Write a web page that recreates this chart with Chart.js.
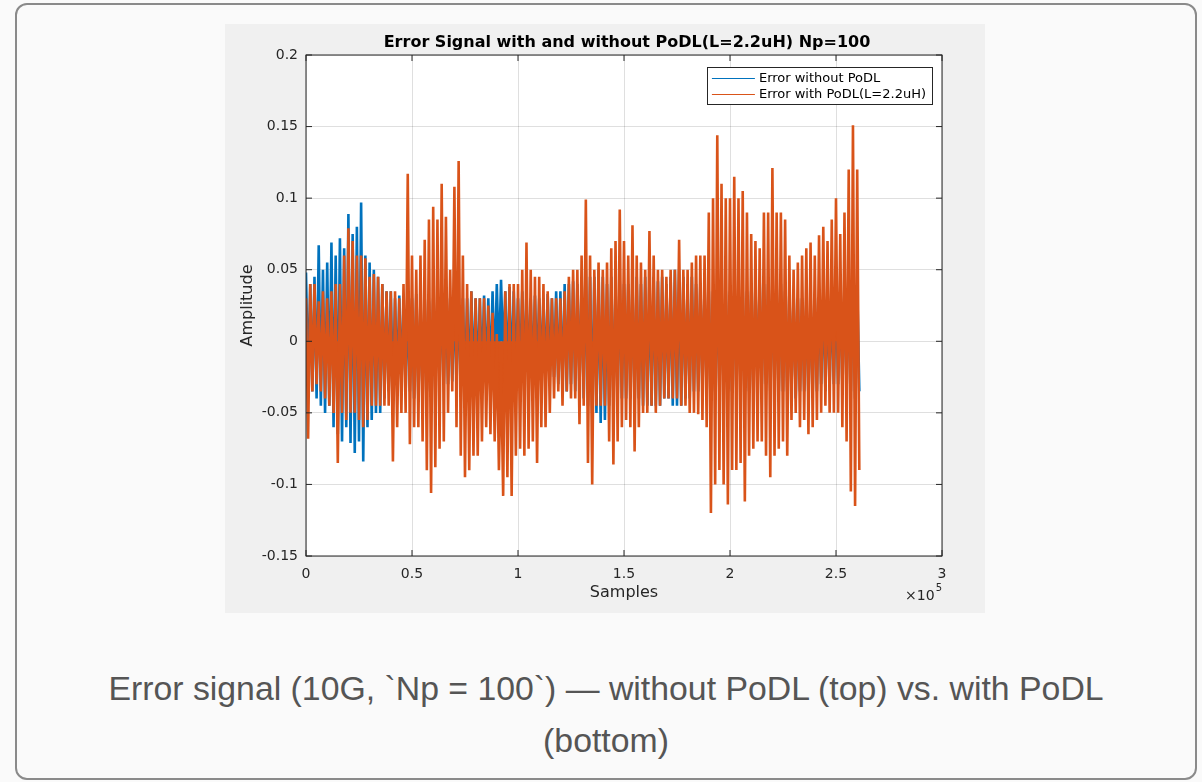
<!DOCTYPE html>
<html>
<head>
<meta charset="utf-8">
<title>Error signal with and without PoDL</title>
<script src="https://cdn.jsdelivr.net/npm/chart.js@4.4.1/dist/chart.umd.min.js"></script>
<style>
  html, body { margin: 0; padding: 0; background: #fafafa; }
  body { width: 1202px; height: 782px; position: relative; overflow: hidden; font-family: "Liberation Sans", Arial, sans-serif; }
  .card { position: absolute; left: 15px; top: 3px; width: 1182px; height: 777px; box-sizing: border-box; border: 2px solid #8a8a8a; border-radius: 12px; background: #fafafa; }
  .figure { position: absolute; left: 225px; top: 24px; width: 760px; height: 589px; background: #f0f0f0; }
  .caption { position: absolute; left: 76px; top: 662px; width: 1060px; text-align: center; font-size: 33.8px; line-height: 52px; color: #555; }
</style>
</head>
<body>
<div class="card"></div>
<div class="figure"><canvas id="errorChart" width="760" height="589"></canvas></div>
<div class="caption">Error signal (10G, `Np = 100`) — without PoDL (top) vs. with PoDL (bottom)</div>

<script>
// Envelope: one high and one low value per 2000-sample bin
const sampleStep = 2000;

const blueHigh = [
  .048, .04, .045, .067, .05, .055, .069, .06, .072, .065,
  .089, .075, .08, .097, .06, .055, .05, .045, .04, .035,
  .035, .03, .032, .03, .028, .03, .033, .03, .03, .028,
  .03, .032, .03, .028, .03, .03, .032, .03, .03, .035,
  .03, .03, .032, .03, .035, .04, .043, .035, .038, .035,
  .03, .035, .035, .03, .032, .03, .03, .033, .03, .035,
  .035, .04, .04, .042, .04, .045, .05, .045, .045, .05,
  .045, .04, .045, .04, .042, .04, .04, .045, .045, .04,
  .045, .045, .045, .042, .045, .04, .045, .05, .05, .045,
  .04, .045, .04, .04, .04, .035, .035, .035, .035, .035,
  .035, .035, .035, .035, .035, .035, .04, .042, .04, .04,
  .04, .04, .04, .035, .035, .035, .03, .03, .03, .03,
  .03, .03, .03, .03, .03, .035, .035, .04, .04, .04, .04
];
const blueLow = [
  -.03, -.035, -.04, -.045, -.05, -.045, -.06, -.065, -.07, -.06,
  -.071, -.078, -.07, -.084, -.06, -.055, -.05, -.05, -.04, -.035,
  -.035, -.03, -.03, -.035, -.035, -.04, -.04, -.04, -.035, -.035,
  -.035, -.03, -.03, -.03, -.028, -.03, -.03, -.03, -.03, -.03,
  -.03, -.025, -.025, -.025, -.02, -.015, -.01, -.025, -.025, -.02,
  -.02, -.02, -.02, -.022, -.02, -.02, -.025, -.025, -.025, -.03,
  -.035, -.035, -.03, -.035, -.035, -.04, -.045, -.05, -.05, -.057,
  -.055, -.045, -.045, -.04, -.04, -.04, -.04, -.045, -.04, -.045,
  -.045, -.045, -.045, -.045, -.04, -.04, -.045, -.045, -.045, -.04,
  -.04, -.035, -.035, -.035, -.035, -.035, -.035, -.035, -.035, -.035,
  -.035, -.035, -.035, -.035, -.035, -.035, -.03, -.03, -.03, -.035,
  -.035, -.035, -.035, -.035, -.035, -.04, -.035, -.035, -.04, -.035,
  -.035, -.03, -.035, -.03, -.03, -.03, -.03, -.035, -.035, -.04, -.035
];
const redHigh = [
  .03, .04, .04, .028, .035, .03, .035, .04, .04, .06,
  .079, .07, .06, .06, .058, .045, .047, .045, .04, .035,
  .035, .035, .03, .04, .117, .06, .05, .06, .071, .085,
  .094, .085, .11, .087, .05, .108, .126, .06, .04, .035,
  .03, .03, .03, .025, .02, .005, -.015, .035, .04, .04,
  .04, .05, .069, .05, .045, .045, .04, .035, .03, .03,
  .03, .035, .045, .05, .05, .06, .099, .06, .05, .055,
  .05, .055, .065, .07, .092, .07, .06, .081, .06, .055,
  .05, .077, .06, .05, .05, .045, .05, .05, .071, .05,
  .05, .055, .06, .06, .06, .09, .1, .144, .11, .1,
  .1, .115, .1, .105, .09, .075, .07, .065, .09, .09,
  .121, .09, .09, .085, .06, .05, .055, .06, .065, .069,
  .06, .074, .08, .07, .085, .1, .075, .09, .12, .151, .12
];
const redLow = [
  -.068, -.035, -.03, -.035, -.04, -.045, -.05, -.085, -.05, -.055,
  -.05, -.05, -.055, -.06, -.055, -.045, -.045, -.045, -.045, -.045,
  -.084, -.06, -.05, -.05, -.072, -.06, -.06, -.07, -.09, -.106,
  -.088, -.075, -.07, -.05, -.035, -.06, -.08, -.095, -.09, -.08,
  -.08, -.07, -.06, -.065, -.07, -.09, -.108, -.095, -.108, -.08,
  -.075, -.08, -.075, -.07, -.085, -.06, -.06, -.05, -.04, -.035,
  -.045, -.035, -.04, -.04, -.058, -.045, -.085, -.1, -.045, -.045,
  -.045, -.07, -.086, -.07, -.06, -.055, -.06, -.077, -.06, -.05,
  -.05, -.045, -.05, -.045, -.04, -.04, -.04, -.04, -.045, -.045,
  -.05, -.05, -.051, -.055, -.06, -.12, -.1, -.09, -.1, -.114,
  -.09, -.09, -.085, -.112, -.08, -.075, -.07, -.07, -.08, -.095,
  -.08, -.075, -.07, -.08, -.055, -.05, -.06, -.055, -.065, -.06,
  -.055, -.05, -.045, -.05, -.05, -.05, -.06, -.07, -.105, -.115, -.09
];

const xTickValues = [0, 50000, 100000, 150000, 200000, 250000, 300000];
const yTickValues = [-0.15, -0.1, -0.05, 0, 0.05, 0.1, 0.15, 0.2];

const seriesLabels = ['Error without PoDL', 'Error with PoDL(L=2.2uH)'];
const seriesColors = ['#0072BD', '#D95319'];
const chartTitle = 'Error Signal with and without PoDL(L=2.2uH) Np=100';

// high value at the bin start, low value half a bin later
function zigzag(high, low) {
    const pts = [];
    for (let i = 0; i < high.length; i++) {
        pts.push({ x: i * sampleStep, y: high[i] });
        pts.push({ x: i * sampleStep + sampleStep / 2, y: low[i] });
    }
    return pts;
}

const FONT = '"DejaVu Sans", sans-serif';
const AXIS_COLOR = '#262626';

// MATLAB look: white axes, box, inward ticks, bold title, framed legend, x10^5
const matlabFrame = {
    id: 'matlabFrame',
    beforeDraw(chart) {
        const { ctx, chartArea: a } = chart;
        ctx.save();
        ctx.fillStyle = '#fff';
        ctx.fillRect(a.left, a.top, a.right - a.left, a.bottom - a.top);
        ctx.restore();
    },
    afterDatasetsDraw(chart) {
        const { ctx, chartArea: a, scales } = chart;
        ctx.save();
        ctx.strokeStyle = AXIS_COLOR;
        ctx.lineWidth = 1;
        ctx.strokeRect(a.left, a.top, a.right - a.left, a.bottom - a.top);
        ctx.beginPath();
        xTickValues.forEach(v => {
            const px = scales.x.getPixelForValue(v);
            ctx.moveTo(px, a.bottom); ctx.lineTo(px, a.bottom - 6);
            ctx.moveTo(px, a.top); ctx.lineTo(px, a.top + 6);
        });
        yTickValues.forEach(v => {
            const py = scales.y.getPixelForValue(v);
            ctx.moveTo(a.left, py); ctx.lineTo(a.left + 6, py);
            ctx.moveTo(a.right, py); ctx.lineTo(a.right - 6, py);
        });
        ctx.stroke();
        ctx.restore();
    },
    afterDraw(chart) {
        const { ctx, chartArea: a } = chart;
        ctx.save();

        // title
        ctx.fillStyle = '#000';
        ctx.font = 'bold 16px ' + FONT;
        ctx.textAlign = 'center';
        ctx.textBaseline = 'middle';
        ctx.fillText(chartTitle, (a.left + a.right) / 2 + 3, a.top - 12);

        // legend
        ctx.font = '13px ' + FONT;
        const textW = Math.max(...seriesLabels.map(t => ctx.measureText(t).width));
        const boxW = 5 + 43 + 4 + textW + 6;
        const boxH = 37;
        const bx = a.right - 10 - boxW;
        const by = a.top + 12;
        ctx.fillStyle = '#fff';
        ctx.fillRect(bx, by, boxW, boxH);
        ctx.strokeStyle = AXIS_COLOR;
        ctx.lineWidth = 1;
        ctx.strokeRect(Math.round(bx) + 0.5, by + 0.5, Math.round(boxW), boxH);
        ctx.textAlign = 'left';
        seriesLabels.forEach((label, i) => {
            const ly = by + 11 + i * 16;
            ctx.strokeStyle = seriesColors[i];
            ctx.beginPath();
            ctx.moveTo(bx + 5, ly + 0.5);
            ctx.lineTo(bx + 48, ly + 0.5);
            ctx.stroke();
            ctx.fillStyle = '#000';
            ctx.fillText(label, bx + 52, ly + 1);
        });

        // exponent of the x axis
        ctx.fillStyle = AXIS_COLOR;
        ctx.textAlign = 'right';
        ctx.textBaseline = 'alphabetic';
        ctx.font = '10px ' + FONT;
        ctx.fillText('5', a.right, a.bottom + 35);
        const w5 = ctx.measureText('5').width;
        ctx.font = '14px ' + FONT;
        ctx.fillText('\u00d710', a.right - w5 - 1, a.bottom + 44);
        ctx.restore();
    }
};

function seriesDataset(i, high, low) {
    return {
        label: seriesLabels[i],
        data: zigzag(high, low),
        borderColor: seriesColors[i],
        backgroundColor: seriesColors[i],
        fill: 'origin',
        borderWidth: 2.6,
        borderJoinStyle: 'bevel',
        pointRadius: 0,
        tension: 0,
        order: 2 - i
    };
}

const ctx = document.getElementById('errorChart').getContext('2d');
new Chart(ctx, {
    type: 'line',
    data: {
        datasets: [
            seriesDataset(0, blueHigh, blueLow),
            seriesDataset(1, redHigh, redLow)
        ]
    },
    options: {
        responsive: false,
        animation: false,
        events: [],
        layout: { padding: { left: 0, right: 43, top: 31, bottom: 0 } },
        plugins: {
            legend: { display: false },
            tooltip: { enabled: false },
            title: { display: false },
            filler: { drawTime: 'beforeDatasetDraw' }
        },
        scales: {
            x: {
                type: 'linear',
                min: 0,
                max: 300000,
                afterBuildTicks: scale => { scale.ticks = xTickValues.map(v => ({ value: v })); },
                afterFit: scale => { scale.height = 57; },
                grid: { color: 'rgba(38,38,38,0.15)', drawTicks: false },
                border: { display: false },
                ticks: {
                    color: AXIS_COLOR,
                    font: { family: FONT, size: 14 },
                    padding: 10,
                    maxRotation: 0,
                    callback: v => String(v / 100000)
                },
                title: {
                    display: true,
                    text: 'Samples',
                    color: AXIS_COLOR,
                    font: { family: FONT, size: 16 },
                    padding: { top: 0, bottom: 11 }
                }
            },
            y: {
                min: -0.15,
                max: 0.2,
                afterBuildTicks: scale => { scale.ticks = yTickValues.map(v => ({ value: v })); },
                afterFit: scale => { scale.width = 81; },
                grid: { color: 'rgba(38,38,38,0.15)', drawTicks: false },
                border: { display: false },
                ticks: {
                    color: AXIS_COLOR,
                    font: { family: FONT, size: 14 },
                    padding: 8,
                    callback: v => String(Number(v.toFixed(2)))
                },
                title: {
                    display: true,
                    text: 'Amplitude',
                    color: AXIS_COLOR,
                    font: { family: FONT, size: 16 },
                    padding: { top: 13, bottom: 0 }
                }
            }
        }
    },
    plugins: [matlabFrame]
});
</script>
</body>
</html>
